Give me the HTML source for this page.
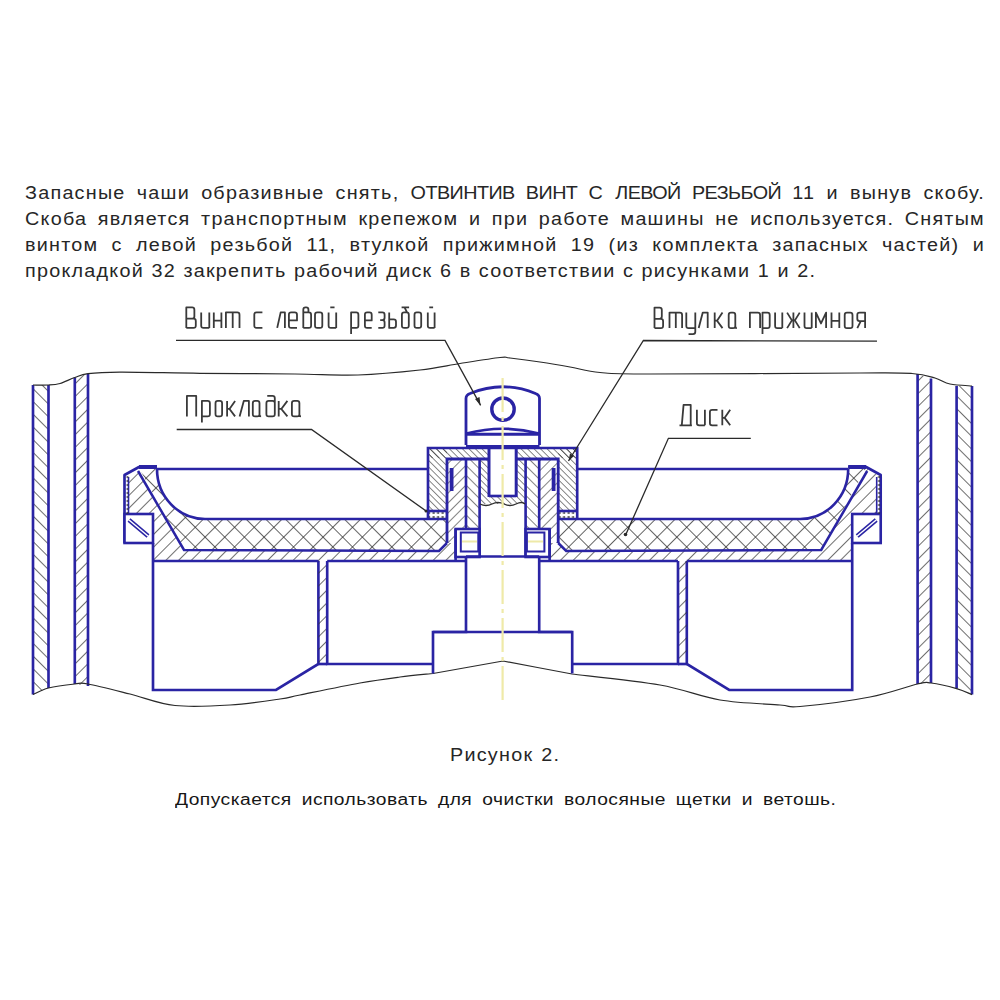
<!DOCTYPE html>
<html><head><meta charset="utf-8">
<style>
html,body{margin:0;padding:0;background:#fff;width:1000px;height:1000px;overflow:hidden;}
body{position:relative;font-family:"Liberation Sans",sans-serif;color:#1e1e28;}
.ln{position:absolute;left:25px;width:849.5px;font-size:17.5px;letter-spacing:1.1px;line-height:20px;white-space:nowrap;transform:scaleX(1.13);transform-origin:0 0;color:#262626;}
.ln2{position:absolute;color:#161616;font-size:16px;letter-spacing:0.4px;line-height:20px;white-space:nowrap;transform:scaleX(1.2);transform-origin:0 0;}
.j{text-align:justify;text-align-last:justify;white-space:normal;}
.lab{position:absolute;font-size:30.5px;line-height:34px;color:#444;white-space:nowrap;transform-origin:0 0;}
#svg{position:absolute;left:0;top:0;}
</style></head><body>
<svg id="svg" width="1000" height="1000" viewBox="0 0 1000 1000"><defs>
<pattern id="hA" patternUnits="userSpaceOnUse" width="9" height="9" patternTransform="rotate(45)">
  <line x1="0" y1="0" x2="0" y2="9" stroke="#303030" stroke-width="1.4"/></pattern>
<pattern id="hB" patternUnits="userSpaceOnUse" width="9" height="9" patternTransform="rotate(-45)">
  <line x1="0" y1="0" x2="0" y2="9" stroke="#303030" stroke-width="1.4"/></pattern>
<pattern id="hX" patternUnits="userSpaceOnUse" width="13.9" height="13.9" patternTransform="translate(8.5,536.4) rotate(45)">
  <line x1="0" y1="-1" x2="0" y2="15" stroke="#303030" stroke-width="1.5"/>
  <line x1="-1" y1="0" x2="15" y2="0" stroke="#303030" stroke-width="1.5"/></pattern>
<pattern id="hD" patternUnits="userSpaceOnUse" width="4.5" height="4" patternTransform="translate(0,511)">
  <rect x="0.5" y="1.3" width="2.2" height="1.4" fill="#303030"/></pattern>
<pattern id="hS" patternUnits="userSpaceOnUse" width="6" height="6" patternTransform="rotate(45)">
  <line x1="0" y1="0" x2="0" y2="6" stroke="#303030" stroke-width="1"/></pattern>
<pattern id="hS2" patternUnits="userSpaceOnUse" width="4.6" height="4.6" patternTransform="rotate(-45)">
  <line x1="0" y1="0" x2="0" y2="4.6" stroke="#303030" stroke-width="1.15"/></pattern>
<pattern id="hM1" patternUnits="userSpaceOnUse" width="7" height="7" patternTransform="rotate(45)">
  <line x1="0" y1="0" x2="0" y2="7" stroke="#303030" stroke-width="1.2"/></pattern>
<pattern id="hM2" patternUnits="userSpaceOnUse" width="7" height="7" patternTransform="rotate(-45)">
  <line x1="0" y1="0" x2="0" y2="7" stroke="#303030" stroke-width="1.2"/></pattern>
</defs><polygon points="33,385 48.5,385 48.5,688 33,694.5" fill="url(#hB)"/>
<line x1="33" y1="385" x2="33" y2="694.5" stroke="#2a24a4" stroke-width="2.65"/>
<line x1="48.5" y1="385" x2="48.5" y2="688" stroke="#2a24a4" stroke-width="2.65"/>
<polygon points="74.8,377.5 88,373.7 88,686 74.8,684" fill="url(#hA)"/>
<line x1="74.8" y1="377.5" x2="74.8" y2="684" stroke="#2a24a4" stroke-width="2.65"/>
<line x1="88" y1="373.7" x2="88" y2="686" stroke="#2a24a4" stroke-width="2.65"/>
<polygon points="917.6,374 931,378.5 931,683 917.6,684" fill="url(#hA)"/>
<line x1="917.6" y1="374" x2="917.6" y2="684" stroke="#2a24a4" stroke-width="2.65"/>
<line x1="931" y1="378.5" x2="931" y2="683" stroke="#2a24a4" stroke-width="2.65"/>
<polygon points="956.6,386 972,386 972,694.6 956.6,688.6" fill="url(#hB)"/>
<line x1="956.6" y1="386" x2="956.6" y2="688.6" stroke="#2a24a4" stroke-width="2.65"/>
<line x1="972" y1="386" x2="972" y2="694.6" stroke="#2a24a4" stroke-width="2.65"/>
<path d="M33,385 C35.6,385.0 44.0,385.2 48.5,385 C53.0,384.8 55.6,384.8 60,383.5 C64.4,382.2 70.1,379.1 74.8,377.5 C79.5,375.9 80.5,374.6 88,373.7 C95.5,372.8 101.3,372.3 120,372.2 C138.7,372.1 170.8,373.0 200,373.3 C229.2,373.6 268.7,373.7 295,374 C321.3,374.3 337.2,375.7 358,375 C378.8,374.3 403.0,371.9 420,370 C437.0,368.1 446.7,365.6 460,363.5 C473.3,361.4 491.7,358.4 500,357.5 C508.3,356.6 503.3,357.2 510,358 C516.7,358.8 530.0,360.5 540,362 C550.0,363.5 560.0,365.2 570,367 C580.0,368.8 586.7,371.3 600,372.5 C613.3,373.7 606.7,373.9 650,374 C693.3,374.1 816.3,373.1 860,373 C903.7,372.9 899.5,372.7 912,373.5 C924.5,374.3 928.7,376.2 935,378 C941.3,379.8 943.8,382.7 950,384 C956.2,385.3 968.3,385.7 972,386" fill="none" stroke="#2a2a2a" stroke-width="1.2"/>
<path d="M33,694.5 C35.6,693.4 41.5,689.8 48.5,688 C55.5,686.2 68.2,684.7 74.8,684 C81.4,683.3 78.8,682.3 88,684 C97.2,685.7 115.5,690.4 130,694 C144.5,697.6 158.3,703.7 175,705.5 C191.7,707.3 212.5,706.1 230,705 C247.5,703.9 268.3,700.7 280,699 C291.7,697.3 286.7,697.7 300,695 C313.3,692.3 343.3,686.0 360,683 C376.7,680.0 387.8,678.6 400,677 C412.2,675.4 427.5,674.1 433,673.5 M433,673.5 C444.7,671.4 491.3,663.1 503,661 M503,661 C514.5,663.2 560.5,671.8 572,674 M572,674 C586.7,675.8 635.3,680.7 660,685 C684.7,689.3 700.0,696.7 720,700 C740.0,703.3 766.7,703.9 780,705 C793.3,706.1 785.0,707.8 800,706.5 C815.0,705.2 850.4,700.8 870,697 C889.6,693.2 907.4,686.3 917.6,684 C927.8,681.7 924.5,682.2 931,683 C937.5,683.8 949.8,686.7 956.6,688.6 C963.4,690.5 969.4,693.6 972,694.6" fill="none" stroke="#2a2a2a" stroke-width="1.2"/>
<polygon points="128,475 138,469 184,550 439,551 447,543 455.6,543 455.6,561 153,561 153,514 128,514" fill="url(#hA)"/>
<path d="M139,468 L157,468 A48 51 0 0 0 205,519 L447,519 L447,543 L439,551 L184,550 Z" fill="url(#hX)"/>
<path d="M124.5,543 L124.5,475 L139,467 L157,467" fill="none" stroke="#2a24a4" stroke-width="2.65" stroke-linejoin="round"/>
<line x1="139" y1="467" x2="157" y2="467" stroke="#2a24a4" stroke-width="4"/>
<line x1="128.5" y1="477" x2="128.5" y2="543" stroke="#2a24a4" stroke-width="1.6"/>
<line x1="157" y1="469" x2="428" y2="469" stroke="#2a24a4" stroke-width="2.65"/>
<path d="M157,469 A48 50 0 0 0 205,519 L447,519" fill="none" stroke="#2a24a4" stroke-width="2.65"/>
<path d="M138,471 L184,550 L439,551 L447,543" fill="none" stroke="#2a24a4" stroke-width="2.5"/>
<rect x="124.5" y="514" width="28.5" height="29" fill="#fff" stroke="#2a24a4" stroke-width="2.6"/>
<path d="M129,520 L148,536" stroke="#2a24a4" stroke-width="4.5" fill="none"/>
<path d="M129,520 L148,536" stroke="#fff" stroke-width="1.5" fill="none"/>
<path d="M153,543 L153,690 L276,690 L318.4,664 L318.4,561" fill="none" stroke="#2a24a4" stroke-width="2.65" stroke-linejoin="miter"/>
<path d="M153,561 L318.4,561 M327.2,561 L466,561" fill="none" stroke="#2a24a4" stroke-width="2.65"/>
<polygon points="318.4,561 327.2,561 327.2,664 318.4,664" fill="url(#hA)"/>
<path d="M327.2,561 L327.2,664 L433,664" fill="none" stroke="#2a24a4" stroke-width="2.65"/>
<line x1="318.4" y1="664" x2="327.2" y2="664" stroke="#2a24a4" stroke-width="2.65"/>
<polygon points="428,448 447,448 447,511 428,511" fill="url(#hS2)"/>
<polygon points="428,448 489,448 489,458 428,458" fill="url(#hS2)"/>
<rect x="428" y="511" width="19" height="8" fill="url(#hD)"/>
<rect x="124.5" y="476" width="4" height="38" fill="url(#hD)"/>
<polygon points="479.6,459 489,459 489,496 502.6,496 502.6,504 479.6,504" fill="url(#hS2)"/>
<polygon points="466,459 479.6,459 479.6,529 466,529" fill="url(#hM2)"/>
<polygon points="447,459 466,459 466,529 455.6,529 455.6,543 447,543" fill="url(#hM1)"/>
<path d="M428,519 L428,448 L502.6,448" fill="none" stroke="#2a24a4" stroke-width="2.65"/>
<path d="M428,511 L447,511" fill="none" stroke="#2a24a4" stroke-width="2.6"/>
<path d="M447,543 L447,459 L489,459" fill="none" stroke="#2a24a4" stroke-width="2.8"/>
<line x1="466" y1="459" x2="466" y2="529" stroke="#2a24a4" stroke-width="2.65"/>
<line x1="479.6" y1="459" x2="479.6" y2="557" stroke="#2a24a4" stroke-width="2.65"/>
<rect x="449.7" y="468" width="3.8" height="23" fill="#2a24a4"/>
<line x1="489" y1="445" x2="489" y2="497" stroke="#2a24a4" stroke-width="3"/>
<line x1="489" y1="496" x2="502.6" y2="496" stroke="#2a24a4" stroke-width="2.65"/>
<rect x="455.6" y="529" width="24" height="28" fill="#fff" stroke="#2a24a4" stroke-width="2.6"/>
<rect x="460.8" y="532.5" width="17.5" height="19" fill="none" stroke="#2a24a4" stroke-width="2"/>
<line x1="455.6" y1="529" x2="455.6" y2="561" stroke="#2a24a4" stroke-width="2.65"/>
<path d="M466,557 L466,632 L433,632 L433,673.5" fill="none" stroke="#2a24a4" stroke-width="2.65"/>
<polygon points="877.2,475 867.2,469 821.2,550 566.2,551 558.2,543 549.6,543 549.6,561 852.2,561 852.2,514 877.2,514" fill="url(#hA)"/>
<path d="M866.2,468 L848.2,468 A48 51 0 0 1 800.2,519 L558.2,519 L558.2,543 L566.2,551 L821.2,550 Z" fill="url(#hX)"/>
<path d="M880.7,543 L880.7,475 L866.2,467 L848.2,467" fill="none" stroke="#2a24a4" stroke-width="2.65" stroke-linejoin="round"/>
<line x1="866.2" y1="467" x2="848.2" y2="467" stroke="#2a24a4" stroke-width="4"/>
<line x1="876.7" y1="477" x2="876.7" y2="543" stroke="#2a24a4" stroke-width="1.6"/>
<line x1="848.2" y1="469" x2="577.2" y2="469" stroke="#2a24a4" stroke-width="2.65"/>
<path d="M848.2,469 A48 50 0 0 1 800.2,519 L558.2,519" fill="none" stroke="#2a24a4" stroke-width="2.65"/>
<path d="M867.2,471 L821.2,550 L566.2,551 L558.2,543" fill="none" stroke="#2a24a4" stroke-width="2.5"/>
<rect x="852.2" y="514" width="28.5" height="29" fill="#fff" stroke="#2a24a4" stroke-width="2.6"/>
<path d="M876.2,520 L857.2,536" stroke="#2a24a4" stroke-width="4.5" fill="none"/>
<path d="M876.2,520 L857.2,536" stroke="#fff" stroke-width="1.5" fill="none"/>
<path d="M852.2,543 L852.2,690 L729.2,690 L686.8,664 L686.8,561" fill="none" stroke="#2a24a4" stroke-width="2.65" stroke-linejoin="miter"/>
<path d="M852.2,561 L686.8,561 M678.0,561 L539.2,561" fill="none" stroke="#2a24a4" stroke-width="2.65"/>
<polygon points="686.8,561 678.0,561 678.0,664 686.8,664" fill="url(#hA)"/>
<path d="M678.0,561 L678.0,664 L572.2,664" fill="none" stroke="#2a24a4" stroke-width="2.65"/>
<line x1="686.8" y1="664" x2="678.0" y2="664" stroke="#2a24a4" stroke-width="2.65"/>
<polygon points="577.2,448 558.2,448 558.2,511 577.2,511" fill="url(#hS2)"/>
<polygon points="577.2,448 516.2,448 516.2,458 577.2,458" fill="url(#hS2)"/>
<rect x="558.2" y="511" width="19" height="8" fill="url(#hD)"/>
<rect x="876.7" y="476" width="4" height="38" fill="url(#hD)"/>
<polygon points="525.6,459 516.2,459 516.2,496 502.6,496 502.6,504 525.6,504" fill="url(#hS2)"/>
<polygon points="539.2,459 525.6,459 525.6,529 539.2,529" fill="url(#hM2)"/>
<polygon points="558.2,459 539.2,459 539.2,529 549.6,529 549.6,543 558.2,543" fill="url(#hM1)"/>
<path d="M577.2,519 L577.2,448 L502.6,448" fill="none" stroke="#2a24a4" stroke-width="2.65"/>
<path d="M577.2,511 L558.2,511" fill="none" stroke="#2a24a4" stroke-width="2.6"/>
<path d="M558.2,543 L558.2,459 L516.2,459" fill="none" stroke="#2a24a4" stroke-width="2.8"/>
<line x1="539.2" y1="459" x2="539.2" y2="529" stroke="#2a24a4" stroke-width="2.65"/>
<line x1="525.6" y1="459" x2="525.6" y2="557" stroke="#2a24a4" stroke-width="2.65"/>
<rect x="551.7" y="468" width="3.8" height="23" fill="#2a24a4"/>
<line x1="516.2" y1="445" x2="516.2" y2="497" stroke="#2a24a4" stroke-width="3"/>
<line x1="516.2" y1="496" x2="502.6" y2="496" stroke="#2a24a4" stroke-width="2.65"/>
<rect x="525.6" y="529" width="24" height="28" fill="#fff" stroke="#2a24a4" stroke-width="2.6"/>
<rect x="526.9" y="532.5" width="17.5" height="19" fill="none" stroke="#2a24a4" stroke-width="2"/>
<line x1="549.6" y1="529" x2="549.6" y2="561" stroke="#2a24a4" stroke-width="2.65"/>
<path d="M539.2,557 L539.2,632 L572.2,632 L572.2,673.5" fill="none" stroke="#2a24a4" stroke-width="2.65"/>
<line x1="466" y1="556.5" x2="539.2" y2="556.5" stroke="#2a24a4" stroke-width="2.65"/>
<line x1="433" y1="632" x2="572.2" y2="632" stroke="#2a24a4" stroke-width="2.65"/>
<path d="M480,504 Q486,507 492,504 T504,504 T516,504 T525,504" fill="none" stroke="#303030" stroke-width="1.3"/>
<path d="M466,445 L466,398.5 Q466,395 470,393.5 Q503,380 535.5,393.5 Q539.5,395 539.5,398.5 L539.5,445" fill="#fff" stroke="#2a24a4" stroke-width="2.8"/>
<circle cx="503" cy="409.2" r="11.2" fill="none" stroke="#2a24a4" stroke-width="3.4"/>
<path d="M466.5,433.5 Q503,424 539,433.5" fill="none" stroke="#2a24a4" stroke-width="2.65"/>
<line x1="466" y1="434.2" x2="539.5" y2="434.2" stroke="#2a24a4" stroke-width="3"/>
<line x1="466" y1="446" x2="539.5" y2="446" stroke="#2a24a4" stroke-width="2"/>
<path d="M462,541.6 L477,541.6 M528,541.6 L543,541.6" stroke="#eee9a8" stroke-width="2" fill="none"/>
<path d="M502.6,378 L502.6,700" stroke="#efeaa8" stroke-width="2.2" stroke-dasharray="34,5,4,5" fill="none"/>
<path d="M176,340.4 L445,340.4 L480.6,405.4" fill="none" stroke="#2a2a2a" stroke-width="1.3"/>
<path d="M877,341.2 L643.4,340.5 L568.5,461" fill="none" stroke="#2a2a2a" stroke-width="1.3"/>
<path d="M176.7,429.5 L311.5,429.5 L426.4,511.2" fill="none" stroke="#2a2a2a" stroke-width="1.3"/>
<path d="M750.8,438.3 L668.4,438.3 L625.5,535.3" fill="none" stroke="#2a2a2a" stroke-width="1.3"/>
<polygon points="480.6,405.4 475,399 479.5,397" fill="#2a2a2a"/>
<polygon points="568.5,461 570,453.5 574,456" fill="#2a2a2a"/>
<circle cx="625.5" cy="534.5" r="1.8" fill="#2a2a2a"/>
<circle cx="426" cy="511" r="1.5" fill="#2a2a2a"/>
<g fill="none" stroke="#3a3a3a" stroke-width="1.8" stroke-linejoin="round"><path transform="translate(186.3,327.9)" d="M0,0 L0,-20.5 L5.77,-20.5 Q8.07,-20.5 8.07,-18.2 L8.07,-11.52 Q8.07,-9.22 5.77,-9.22 L0,-9.22 M5.77,-9.22 L7.2,-9.22 Q9.5,-9.22 9.5,-6.92 L9.5,-2.3 Q9.5,0 7.2,0 L0,0"/><path transform="translate(201.2,327.9)" d="M0,-15.5 L0,-2.3 Q0,0 2.3,0 L8.1,0 M8.1,-15.5 L8.1,0"/><path transform="translate(213.8,327.9)" d="M0,-15.5 L0,0 M7.6,-15.5 L7.6,0 M0,-7.28 L7.6,-7.28"/><path transform="translate(225.9,327.9)" d="M0,0 L0,-15.5 L11.3,-15.5 Q13.6,-15.5 13.6,-13.2 L13.6,0 M6.8,-15.5 L6.8,0"/><path transform="translate(254.3,327.9)" d="M8.1,-15.5 L2.3,-15.5 Q0,-15.5 0,-13.2 L0,-2.3 Q0,0 2.3,0 L8.1,0"/><path transform="translate(277.2,327.9)" d="M0,0 L3.47,-15.5 L7.7,-15.5 L7.7,0"/><path transform="translate(288.9,327.9)" d="M0,-7.44 L8.1,-7.44 L8.1,-13.2 Q8.1,-15.5 5.8,-15.5 L2.3,-15.5 Q0,-15.5 0,-13.2 L0,-2.3 Q0,0 2.3,0 L8.1,0"/><path transform="translate(303.3,327.9)" d="M0,0 L0,-18.2 Q0,-20.5 2.3,-20.5 L2.85,-20.5 Q5.15,-20.5 5.15,-18.2 L5.15,-15.5 M0,-15.5 L5.5,-15.5 Q7.8,-15.5 7.8,-13.2 L7.8,-2.3 Q7.8,0 5.5,0 L0,0"/><path transform="translate(315,327.9)" d="M0,-13.2 Q0,-15.5 2.3,-15.5 L5,-15.5 Q7.3,-15.5 7.3,-13.2 L7.3,-2.3 Q7.3,0 5,0 L2.3,0 Q0,0 0,-2.3 Z"/><path transform="translate(328.6,327.9)" d="M0,-15.5 L0,-2.3 Q0,0 2.3,0 L7.6,0 M7.6,-15.5 L7.6,0 M1.67,-20.5 L5.93,-20.5"/><path transform="translate(351.1,327.9)" d="M0,6 L0,-15.5 L5,-15.5 Q7.3,-15.5 7.3,-13.2 L7.3,-2.3 Q7.3,0 5,0 L0,0"/><path transform="translate(364.9,327.9)" d="M0,-7.44 L6.8,-7.44 L6.8,-13.2 Q6.8,-15.5 4.5,-15.5 L2.3,-15.5 Q0,-15.5 0,-13.2 L0,-2.3 Q0,0 2.3,0 L6.8,0"/><path transform="translate(378.3,327.9)" d="M0,-15.5 L4,-15.5 Q6.3,-15.5 6.3,-13.2 L6.3,-10.05 Q6.3,-7.75 4,-7.75 L1.89,-7.75 M4,-7.75 Q6.3,-7.75 6.3,-5.45 L6.3,-2.3 Q6.3,0 4,0 L0,0"/><path transform="translate(389.2,327.9)" d="M0,-15.5 L0,0 L4.5,0 Q6.8,0 6.8,-2.3 L6.8,-6.23 Q6.8,-8.53 4.5,-8.53 L0,-8.53"/><path transform="translate(401.9,327.9)" d="M0,-13.2 Q0,-15.5 2.3,-15.5 L4.6,-15.5 Q6.9,-15.5 6.9,-13.2 L6.9,-2.3 Q6.9,0 4.6,0 L2.3,0 Q0,0 0,-2.3 Z M-0.3,-20.5 L7.2,-20.5 M2.62,-20.5 L5.17,-15.5"/><path transform="translate(414.5,327.9)" d="M0,-13.2 Q0,-15.5 2.3,-15.5 L4.4,-15.5 Q6.7,-15.5 6.7,-13.2 L6.7,-2.3 Q6.7,0 4.4,0 L2.3,0 Q0,0 0,-2.3 Z"/><path transform="translate(427.8,327.9)" d="M0,-15.5 L0,-2.3 Q0,0 2.3,0 L6.8,0 M6.8,-15.5 L6.8,0 M1.5,-20.5 L5.3,-20.5"/></g>
<g fill="none" stroke="#3a3a3a" stroke-width="1.8" stroke-linejoin="round"><path transform="translate(654.5,328.1)" d="M0,0 L0,-20.5 L5.01,-20.5 Q7.31,-20.5 7.31,-18.2 L7.31,-11.52 Q7.31,-9.22 5.01,-9.22 L0,-9.22 M5.01,-9.22 L6.3,-9.22 Q8.6,-9.22 8.6,-6.92 L8.6,-2.3 Q8.6,0 6.3,0 L0,0"/><path transform="translate(669.5,328.1)" d="M0,0 L0,-15.5 L10.3,-15.5 Q12.6,-15.5 12.6,-13.2 L12.6,0 M6.3,-15.5 L6.3,0"/><path transform="translate(686.3,328.1)" d="M0,-15.5 L0,-2.3 Q0,0 2.3,0 L9,0 M9,-15.5 L9,3.7 Q9,6 6.7,6 L2.25,6"/><path transform="translate(698.7,328.1)" d="M0,0 L4.05,-15.5 L9,-15.5 L9,0"/><path transform="translate(714.7,328.1)" d="M0,-15.5 L0,0 M0,-7.44 L2.34,-7.44 L7.8,-15.5 M2.34,-7.44 L7.8,0"/><path transform="translate(728.7,328.1)" d="M0,-13.2 Q0,-15.5 2.3,-15.5 L4.3,-15.5 Q6.6,-15.5 6.6,-13.2 L6.6,-2.3 Q6.6,0 4.3,0 L2.3,0 Q0,0 0,-2.3 Z M6.6,-2.3 Q6.6,0 8.2,0"/><path transform="translate(749.9,328.1)" d="M0,0 L0,-15.5 L7.9,-15.5 Q10.2,-15.5 10.2,-13.2 L10.2,0"/><path transform="translate(762.5,328.1)" d="M0,6 L0,-15.5 L4.9,-15.5 Q7.2,-15.5 7.2,-13.2 L7.2,-2.3 Q7.2,0 4.9,0 L0,0"/><path transform="translate(775.1,328.1)" d="M0,-15.5 L0,-2.3 Q0,0 2.3,0 L7.2,0 M7.2,-15.5 L7.2,0"/><path transform="translate(787.1,328.1)" d="M6.3,-15.5 L6.3,0 M0,-15.5 L4.8,-7.75 L0,0 M12.6,-15.5 L7.8,-7.75 L12.6,0 M4.8,-7.75 L7.8,-7.75"/><path transform="translate(804.5,328.1)" d="M0,-15.5 L0,-2.3 Q0,0 2.3,0 L7.2,0 M7.2,-15.5 L7.2,0"/><path transform="translate(815.9,328.1)" d="M0,0 L0,-15.5 L5.1,-4.65 L10.2,-15.5 L10.2,0"/><path transform="translate(831.5,328.1)" d="M0,-15.5 L0,0 M7.8,-15.5 L7.8,0 M0,-7.28 L7.8,-7.28"/><path transform="translate(844.7,328.1)" d="M0,-13.2 Q0,-15.5 2.3,-15.5 L5.5,-15.5 Q7.8,-15.5 7.8,-13.2 L7.8,-2.3 Q7.8,0 5.5,0 L2.3,0 Q0,0 0,-2.3 Z"/><path transform="translate(857.3,328.1)" d="M7.8,0 L7.8,-15.5 L2.3,-15.5 Q0,-15.5 0,-13.2 L0,-9.27 Q0,-6.97 2.3,-6.97 L7.8,-6.97 M3.51,-6.97 L0,0"/></g>
<g fill="none" stroke="#3a3a3a" stroke-width="1.8" stroke-linejoin="round"><path transform="translate(186.9,416.4)" d="M0,0 L0,-20.5 L9.3,-20.5 L9.3,0"/><path transform="translate(201.9,416.4)" d="M0,6 L0,-15.5 L5.7,-15.5 Q8,-15.5 8,-13.2 L8,-2.3 Q8,0 5.7,0 L0,0"/><path transform="translate(215.5,416.4)" d="M0,-13.2 Q0,-15.5 2.3,-15.5 L4.3,-15.5 Q6.6,-15.5 6.6,-13.2 L6.6,-2.3 Q6.6,0 4.3,0 L2.3,0 Q0,0 0,-2.3 Z"/><path transform="translate(227.1,416.4)" d="M0,-15.5 L0,0 M0,-7.44 L2.4,-7.44 L8,-15.5 M2.4,-7.44 L8,0"/><path transform="translate(239.6,416.4)" d="M0,0 L4.18,-15.5 L9.3,-15.5 L9.3,0"/><path transform="translate(252.8,416.4)" d="M0,-13.2 Q0,-15.5 2.3,-15.5 L4.4,-15.5 Q6.7,-15.5 6.7,-13.2 L6.7,-2.3 Q6.7,0 4.4,0 L2.3,0 Q0,0 0,-2.3 Z M6.7,-2.3 Q6.7,0 8.3,0"/><path transform="translate(266.4,416.4)" d="M0,-13.2 Q0,-15.5 2.3,-15.5 L6.1,-15.5 Q8.4,-15.5 8.4,-13.2 L8.4,-2.3 Q8.4,0 6.1,0 L2.3,0 Q0,0 0,-2.3 Z M8.4,-13.2 L8.4,-18.2 Q8.4,-20.5 6.1,-20.5 L0.84,-20.5"/><path transform="translate(278.7,416.4)" d="M0,-15.5 L0,0 M0,-7.44 L2.61,-7.44 L8.7,-15.5 M2.61,-7.44 L8.7,0"/><path transform="translate(291.9,416.4)" d="M0,-13.2 Q0,-15.5 2.3,-15.5 L5.2,-15.5 Q7.5,-15.5 7.5,-13.2 L7.5,-2.3 Q7.5,0 5.2,0 L2.3,0 Q0,0 0,-2.3 Z M7.5,-2.3 Q7.5,0 9.1,0"/></g>
<g fill="none" stroke="#3a3a3a" stroke-width="1.8" stroke-linejoin="round"><path transform="translate(680,425.3)" d="M-0.5,0 L11.9,0 M1.78,0 L3.57,-20.5 L10.71,-20.5 L10.71,0"/><path transform="translate(696.9,425.3)" d="M0,-15.5 L0,-2.3 Q0,0 2.3,0 L8,0 M8,-15.5 L8,0"/><path transform="translate(709.9,425.3)" d="M7.6,-15.5 L2.3,-15.5 Q0,-15.5 0,-13.2 L0,-2.3 Q0,0 2.3,0 L7.6,0"/><path transform="translate(722.3,425.3)" d="M0,-15.5 L0,0 M0,-7.44 L2.37,-7.44 L7.9,-15.5 M2.37,-7.44 L7.9,0"/></g></svg>
<div class="ln j" style="top:183px">Запасные чаши образивные снять, <span style="letter-spacing:-0.5px">ОТВИНТИВ</span> <span style="letter-spacing:-0.5px">ВИНТ</span> С <span style="letter-spacing:-0.5px">ЛЕВОЙ</span> <span style="letter-spacing:-0.5px">РЕЗЬБОЙ</span> 11 и вынув скобу.</div>
<div class="ln j" style="top:209px">Скоба является транспортным крепежом и при работе машины не используется. Снятым</div>
<div class="ln j" style="top:235px">винтом с левой резьбой 11, втулкой прижимной 19 (из комплекта запасных частей) и</div>
<div class="ln" style="top:261px;word-spacing:0.65px"><span id="l4">прокладкой 32 закрепить рабочий диск 6 в соответствии с рисунками 1 и 2.</span></div>
<div class="ln" style="top:745px;left:449.5px;width:auto;word-spacing:1px"><span id="cap">Рисунок 2.</span></div>
<div class="ln2" style="top:790px;left:175px;word-spacing:3.5px"><span id="dop">Допускается использовать для очистки волосяные щетки и ветошь.</span></div>

</body></html>
